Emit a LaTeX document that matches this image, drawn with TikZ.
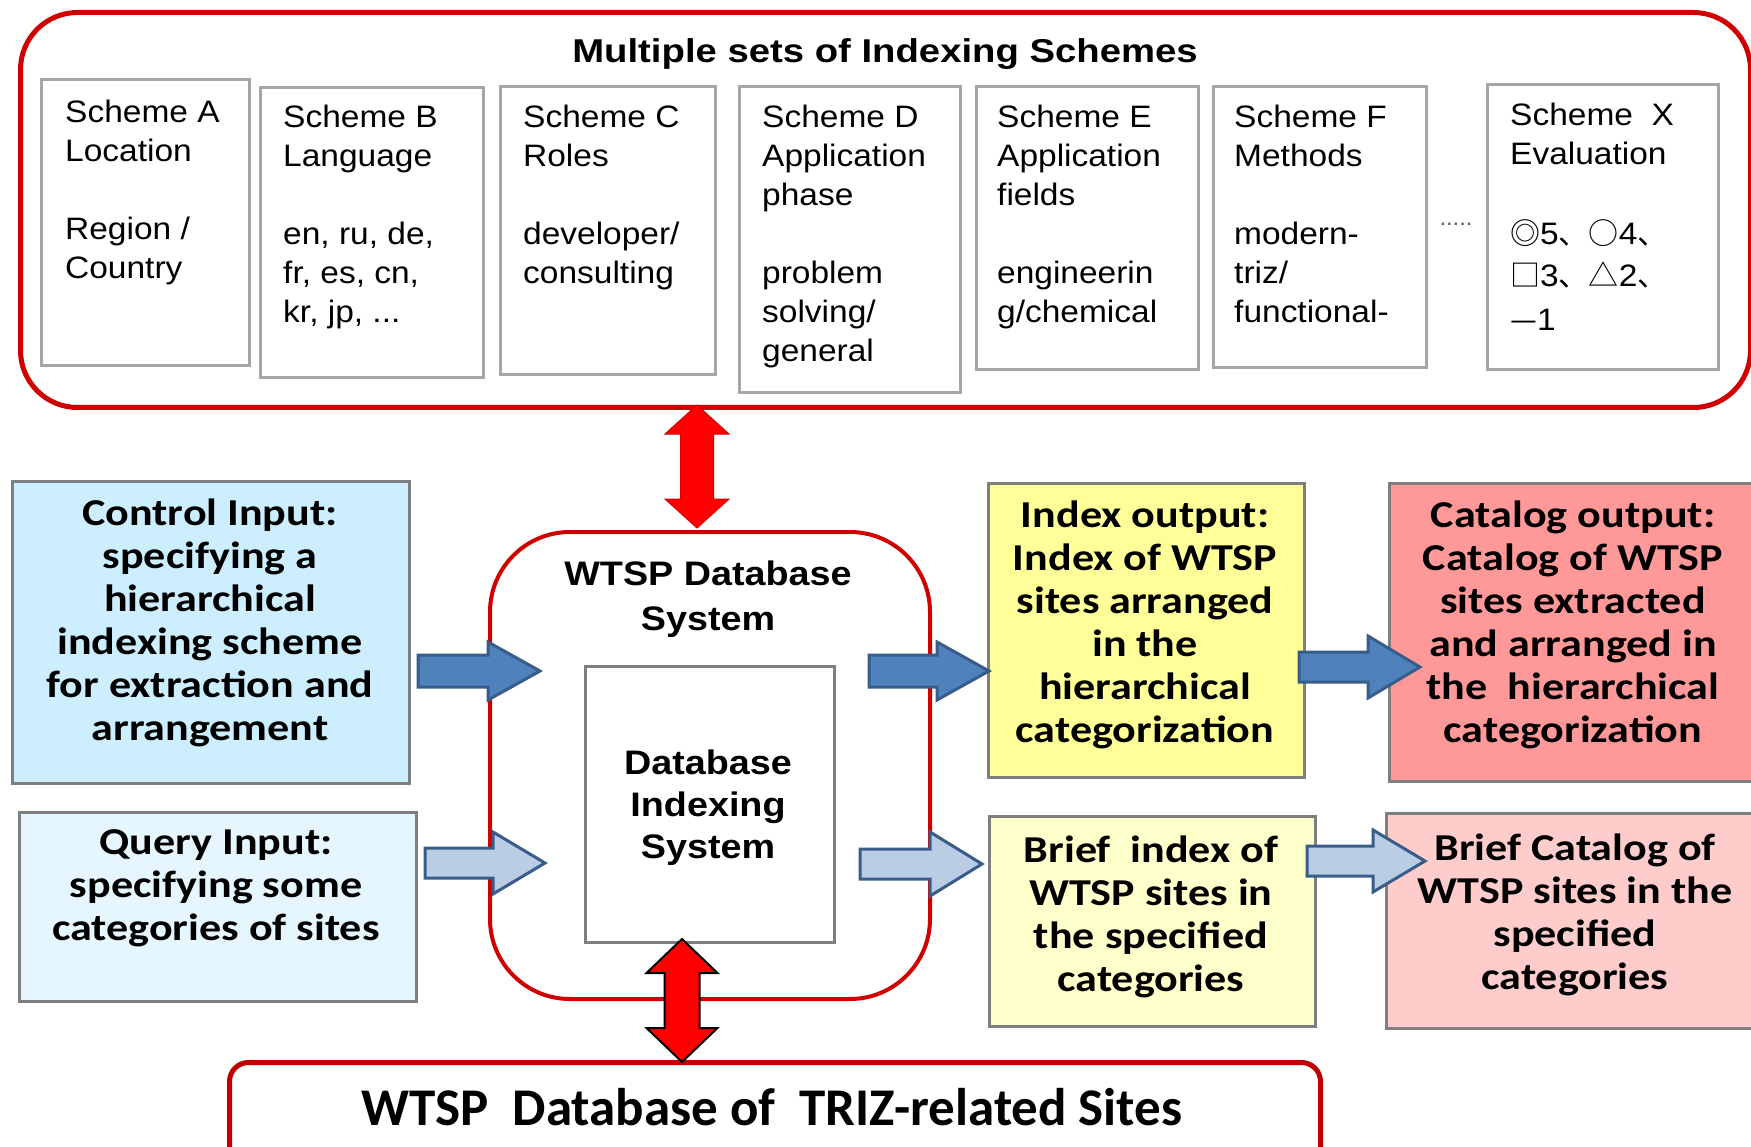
\documentclass[tikz,border=0pt]{standalone}
\usepackage{fontspec}
\setmainfont{Liberation Sans}
\newfontfamily\schf[FakeStretch=1.08]{Liberation Sans}
\newfontfamily\ttlf[FakeStretch=1.16]{Liberation Sans}
\newfontfamily\dbf[FakeStretch=1.11]{Liberation Sans}
\newfontfamily\calf[FakeStretch=1.16]{Carlito}
\newfontfamily\calnf{Carlito}
\newfontfamily\cjkf{Noto Sans CJK SC}
\usetikzlibrary{calc}
\definecolor{redline}{HTML}{D00000}
\definecolor{redline2}{HTML}{C00000}
\definecolor{boxgray}{HTML}{A6A6A6}
\definecolor{outgray}{HTML}{7F7F7F}
\definecolor{ctrlfill}{HTML}{CCEEFF}
\definecolor{qryfill}{HTML}{E6F6FF}
\definecolor{idxfill}{HTML}{FFFF99}
\definecolor{catfill}{HTML}{FF9999}
\definecolor{bidxfill}{HTML}{FFFFCC}
\definecolor{bcatfill}{HTML}{FFCCCC}
\definecolor{arrdark}{HTML}{4F81BD}
\definecolor{arrlight}{HTML}{B9CDE5}
\definecolor{arredge}{HTML}{385D8A}
\newcommand\topstrut{\rule{0pt}{40pt}}
\newcommand\cj[1]{{\cjkf\fontsize{30}{39}\selectfont #1}}
\newcommand\harrow[5]{%
  \path[#1] let \p1=(#2), \p2=(#3) in
    (\x1,\y1+#4pt) -- (\x2-52pt,\y1+#4pt) -- (\x2-52pt,\y1+#5pt) -- (\x2,\y1)
    -- (\x2-52pt,\y1-#5pt) -- (\x2-52pt,\y1-#4pt) -- (\x1,\y1-#4pt) -- cycle;}
\newcommand\varrow[6]{%
  \path[#1] let \p1=(#2), \p2=(#3) in
    (\x1,\y1) -- (\x1+#5pt,\y1-#6pt) -- (\x1+#4pt,\y1-#6pt) -- (\x1+#4pt,\y2+#6pt)
    -- (\x1+#5pt,\y2+#6pt) -- (\x1,\y2) -- (\x1-#5pt,\y2+#6pt) -- (\x1-#4pt,\y2+#6pt)
    -- (\x1-#4pt,\y1-#6pt) -- (\x1-#5pt,\y1-#6pt) -- cycle;}
\tikzset{
  schemebox/.style={draw=boxgray, line width=3pt, fill=white, anchor=north west, inner sep=0pt},
  outbox/.style={draw=outgray, line width=3pt, anchor=north west, inner sep=0pt},
  schtext/.style={anchor=north west, inner sep=0pt, align=left, font=\schf\fontsize{31}{39}\selectfont},
  caltext/.style={anchor=north, inner sep=0pt, align=center, font=\calf\bfseries\fontsize{38}{43}\selectfont},
  dbtext/.style={anchor=north, inner sep=0pt, align=center, font=\dbf\bfseries\fontsize{34}{45}\selectfont},
  darkarrow/.style={fill=arrdark, draw=arredge, line width=3pt, line join=miter},
  lightarrow/.style={fill=arrlight, draw=arredge, line width=3pt, line join=miter},
  redarrow/.style={fill=red, draw=red!85!black, line width=1pt},
  redarrowb/.style={fill=red, draw=black, line width=2pt, line join=miter},
}
\begin{document}
\begin{tikzpicture}[x=1pt,y=-1pt]
\useasboundingbox (0,0) rectangle (1751,1147);
\fill[white] (0,0) rectangle (1751,1147);
% top frame
\node[draw=redline, line width=5pt, rounded corners=57pt, minimum width=1730, minimum height=395, anchor=north west, inner sep=0pt] (schemes) at (18,10) {};
\node[anchor=base, inner sep=0pt, font=\ttlf\bfseries\fontsize{33}{40}\selectfont] (title) at (885,63) {Multiple sets of Indexing Schemes};
% scheme boxes
\node[schemebox, minimum width=208, minimum height=286] (schA) at (40,78) {};
\node[schemebox, minimum width=223, minimum height=290] (schB) at (259,86) {};
\node[schemebox, minimum width=215, minimum height=288] (schC) at (499,85) {};
\node[schemebox, minimum width=221, minimum height=306] (schD) at (738,85) {};
\node[schemebox, minimum width=222, minimum height=283] (schE) at (975,85) {};
\node[schemebox, minimum width=213, minimum height=281] (schF) at (1212,85) {};
\node[schemebox, minimum width=231, minimum height=285] (schX) at (1486,83) {};
\node[schtext] (tA) at (65,82) {\topstrut Scheme A\\Location\\\strut\\Region /\\Country};
\node[schtext] (tB) at (283,87) {\topstrut Scheme B\\Language\\\strut\\en, ru, de,\\fr, es, cn,\\kr, jp, ...};
\node[schtext] (tC) at (523,87) {\topstrut Scheme C\\Roles\\\strut\\developer/\\consulting};
\node[schtext] (tD) at (762,87) {\topstrut Scheme D\\Application\\phase\\\strut\\problem\\solving/\\general};
\node[schtext] (tE) at (997,87) {\topstrut Scheme E\\Application\\fields\\\strut\\engineerin\\g/chemical};
\node[schtext] (tF) at (1234,87) {\topstrut Scheme F\\Methods\\\strut\\modern-\\triz/\\functional-};
\node[schtext] (tX) at (1510,85) {\topstrut Scheme~~X\\Evaluation\\\strut\\[2pt]\cj{◎}5\cj{、○}4\cj{、}\\[3pt]\cj{□}3\cj{、△}2\cj{、}\\[5pt]\cj{—}1};
\node[anchor=base, inner sep=0pt, text=black!65, font=\schf\fontsize{22}{24}\selectfont] (dots) at (1456,226) {.....};
% central system
\node[draw=redline, line width=4pt, rounded corners=80pt, minimum width=440, minimum height=467, anchor=north west, inner sep=0pt] (wtsp) at (488,530) {};
\node[dbtext] (wtspt) at (708,545) {\topstrut WTSP Database\\System};
\node[outbox, fill=white, minimum width=249, minimum height=276] (dbis) at (584,665) {};
\node[dbtext, font=\dbf\bfseries\fontsize{34}{42}\selectfont] (dbist) at (708,734) {\topstrut Database\\Indexing\\System};
% input / output boxes
\node[outbox, fill=ctrlfill, minimum width=397, minimum height=302] (ctrl) at (11,480) {};
\node[outbox, fill=qryfill, minimum width=397, minimum height=189] (qry) at (18,811) {};
\node[outbox, fill=idxfill, minimum width=316, minimum height=294] (idx) at (987,482) {};
\node[outbox, fill=catfill, minimum width=380, minimum height=298] (cat) at (1388,482) {};
\node[outbox, fill=bidxfill, minimum width=326, minimum height=210] (bidx) at (988,815) {};
\node[outbox, fill=bcatfill, minimum width=380, minimum height=215] (bcat) at (1385,812) {};
\node[caltext] (ctrlt) at (210,485) {\topstrut Control Input:\\specifying a\\hierarchical\\indexing scheme\\for extraction and\\arrangement};
\node[caltext] (qryt) at (216,814) {\topstrut Query Input:\\specifying some\\categories of sites};
\node[caltext] (idxt) at (1145,487) {\topstrut Index output:\\Index of WTSP\\sites arranged\\in the\\hierarchical\\categorization};
\node[caltext] (catt) at (1573,487) {\topstrut Catalog output:\\Catalog of WTSP\\sites extracted\\and arranged in\\the~ hierarchical\\categorization};
\node[caltext] (bidxt) at (1151,822) {\topstrut Brief~ index of\\WTSP sites in\\the specified\\categories};
\node[caltext] (bcatt) at (1575,820) {\topstrut Brief Catalog of\\WTSP sites in the\\specified\\categories};
% bottom database
\node[draw=redline2, line width=5pt, rounded corners=19pt, minimum width=1091, minimum height=110, anchor=north west, inner sep=0pt] (base) at (227,1060) {};
\node[anchor=base, inner sep=0pt, font=\calnf\bfseries\fontsize{53}{60}\selectfont] (baset) at (772,1125) {WTSP~ Database of~ TRIZ-related Sites};
% connector end points
\coordinate (ua) at (697,405); \coordinate (ub) at (697,528);
\coordinate (da) at (682,939); \coordinate (db) at (682,1062);
\coordinate (a1s) at (418,671); \coordinate (a1e) at (540,671);
\coordinate (a2s) at (869,671); \coordinate (a2e) at (989,671);
\coordinate (a3s) at (1299,667); \coordinate (a3e) at (1420,667);
\coordinate (a4s) at (425,863); \coordinate (a4e) at (545,863);
\coordinate (a5s) at (860,864); \coordinate (a5e) at (982,864);
\coordinate (a6s) at (1307,861); \coordinate (a6e) at (1425,861);
% arrows
\harrow{darkarrow}{a1s}{a1e}{16}{29}
\harrow{darkarrow}{a2s}{a2e}{16}{29}
\harrow{darkarrow}{a3s}{a3e}{15}{31}
\harrow{lightarrow}{a4s}{a4e}{15}{31}
\harrow{lightarrow}{a5s}{a5e}{15}{32}
\harrow{lightarrow}{a6s}{a6e}{15}{31}
\varrow{redarrow}{ua}{ub}{16.5}{32}{29}
\varrow{fill=redline!90, opacity=0.7, xshift=6pt}{da}{db}{17.5}{35.5}{34}
\varrow{redarrowb}{da}{db}{17.5}{35.5}{34}
\end{tikzpicture}
\end{document}
